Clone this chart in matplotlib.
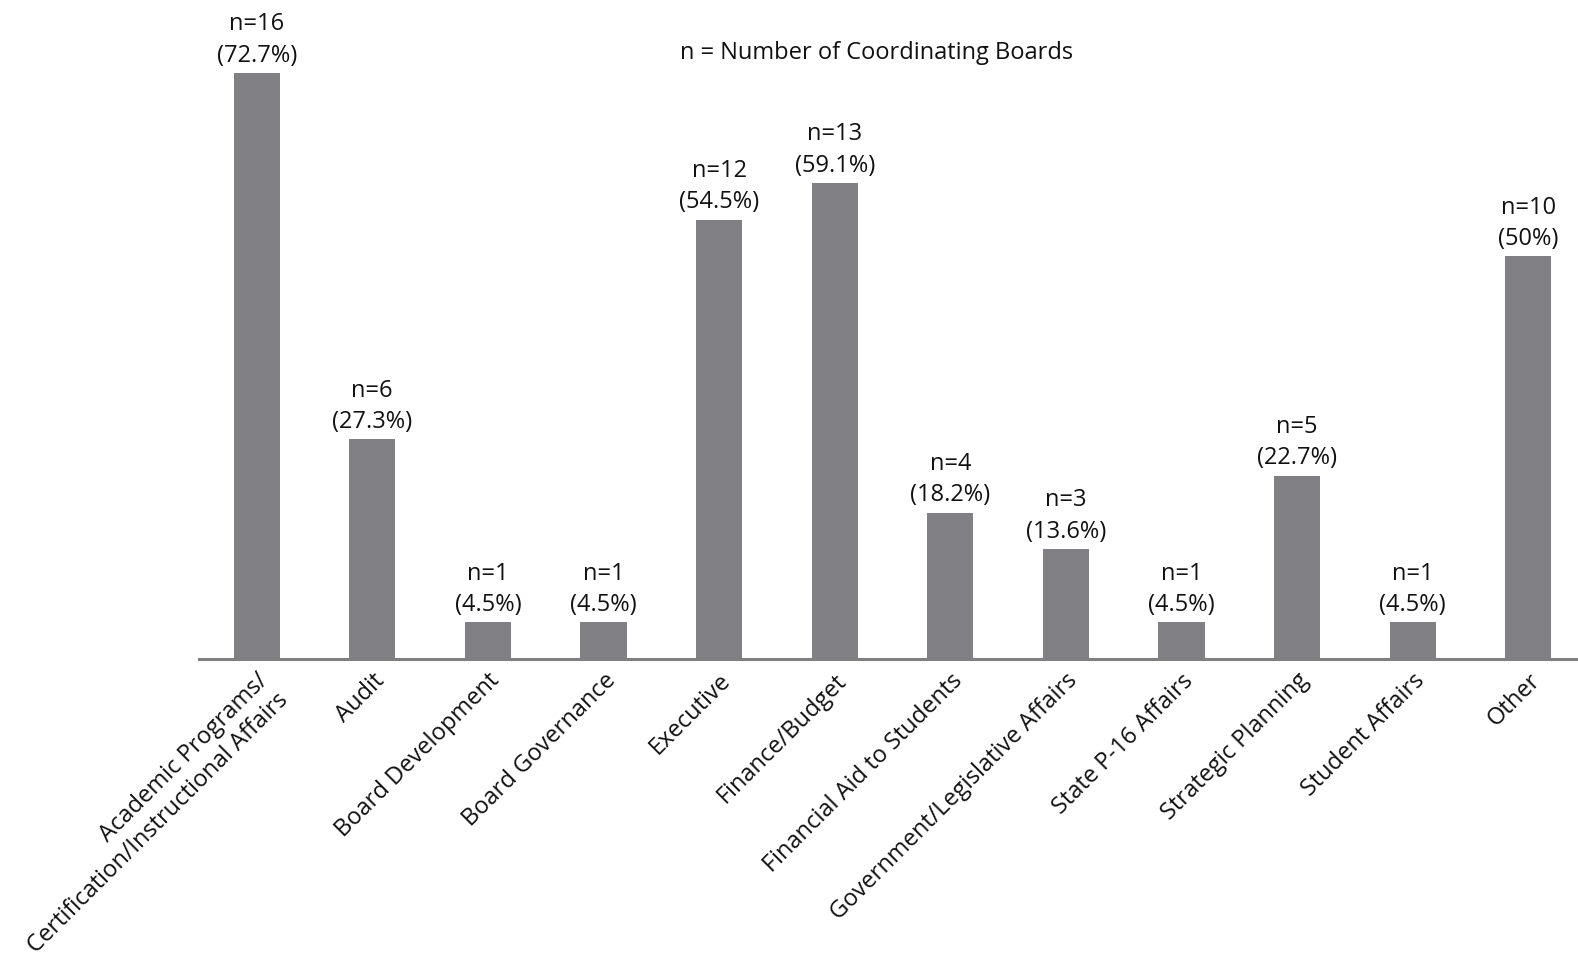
import matplotlib
matplotlib.use("Agg")
from matplotlib import pyplot as plt

categories = [
    "Academic Programs/\nCertification/Instructional Affairs",
    "Audit",
    "Board Development",
    "Board Governance",
    "Executive",
    "Finance/Budget",
    "Financial Aid to Students",
    "Government/Legislative Affairs",
    "State P-16 Affairs",
    "Strategic Planning",
    "Student Affairs",
    "Other",
]
# bar heights as drawn (the "Other" bar is drawn at 11 although labelled n=10)
bar_heights = [16, 6, 1, 1, 12, 13, 4, 3, 1, 5, 1, 11]
n_labels = [16, 6, 1, 1, 12, 13, 4, 3, 1, 5, 1, 10]
percents = ["72.7%", "27.3%", "4.5%", "4.5%", "54.5%", "59.1%",
            "18.2%", "13.6%", "4.5%", "22.7%", "4.5%", "50%"]

plt.rcParams['font.family'] = ['Open Sans', 'DejaVu Sans']

fig = plt.figure(figsize=(15.78, 9.6), dpi=100)
ax = fig.add_axes([0.126, 0.3135, 0.874, 0.6865])

x = list(range(len(categories)))
ax.bar(x, bar_heights, width=0.4, color="#818185")

for xi, h, n, p in zip(x, bar_heights, n_labels, percents):
    ax.annotate("n=%d\n(%s)" % (n, p), (xi, h), xytext=(0, 4),
                textcoords="offset points", ha="center", va="bottom",
                fontsize=17, linespacing=1.4, color="#111111")

ax.set_xlim(-0.5, 11.43)
ax.set_ylim(0, 18)
ax.set_xticks(x)
ax.set_xticklabels(categories, rotation=45, ha="right", va="top",
                   rotation_mode="anchor", fontsize=17, multialignment="right",
                   color="#111111")
ax.tick_params(axis="x", length=0, pad=7)
ax.set_yticks([])
for side in ["top", "right", "left"]:
    ax.spines[side].set_visible(False)
ax.spines["bottom"].set_color("#808080")
ax.spines["bottom"].set_linewidth(2.2)

fig.text(877 / 1578, 1 - 53 / 960, "n = Number of Coordinating Boards",
         ha="center", va="center", fontsize=17, color="#111111")

fig.savefig("out.png", dpi=100)
